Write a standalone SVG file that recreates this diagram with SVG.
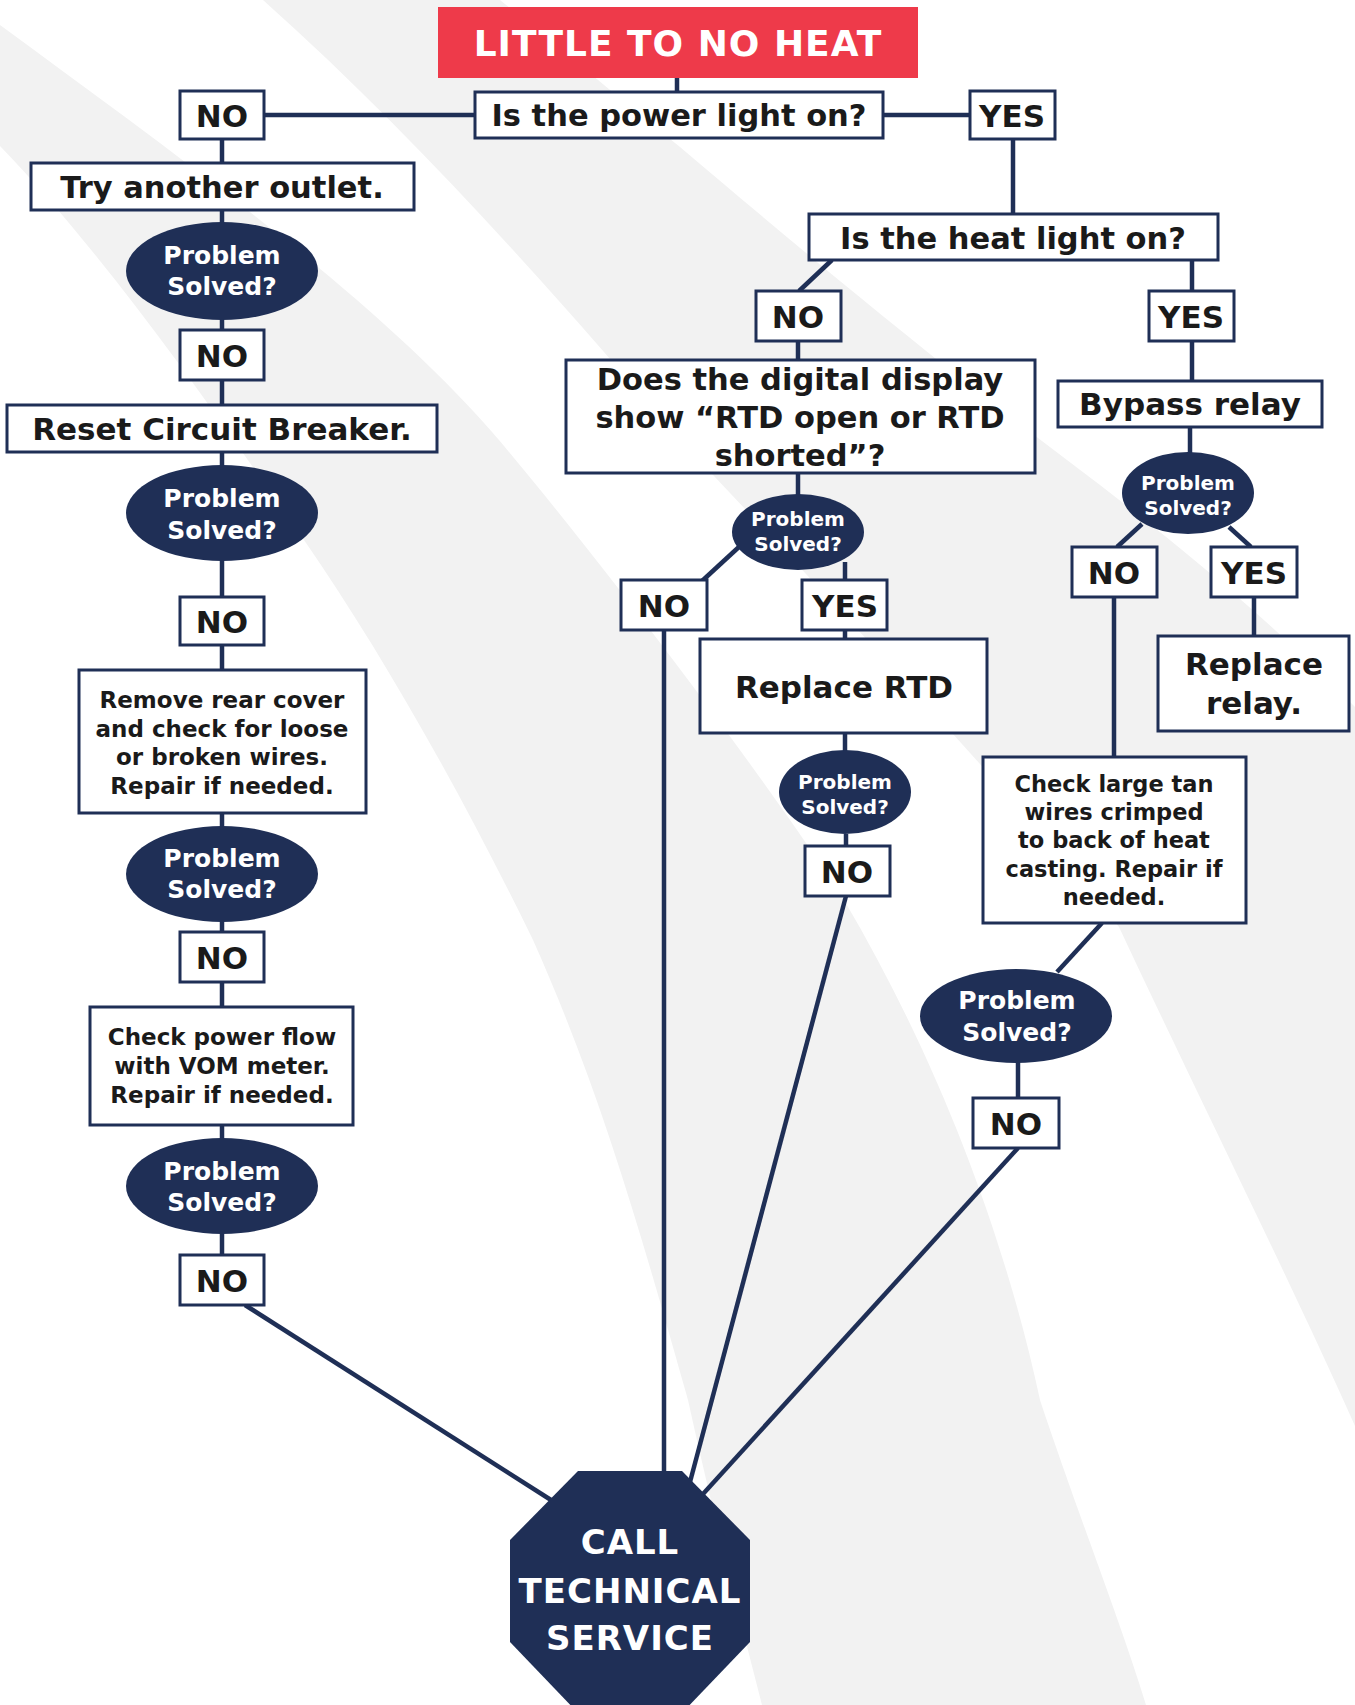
<svg xmlns="http://www.w3.org/2000/svg" width="1355" height="1705" viewBox="0 0 1355 1705">
<style>
.bg{fill:#f2f2f2;stroke:none}
.box{fill:#ffffff;stroke:#1f2f56;stroke-width:3}
.ell{fill:#1f2f56;stroke:none}
.ln{stroke:#1f2f56;stroke-width:4.5;fill:none;stroke-linecap:butt}
text{font-family:"DejaVu Sans","Liberation Sans",sans-serif;font-weight:bold;text-anchor:middle}
.t{fill:#1a1a1a;font-size:30.5px}
.yn{fill:#1a1a1a;font-size:31px}
.sm{fill:#1a1a1a;font-size:23px}
.w{fill:#ffffff;font-size:25px}
.ws{fill:#ffffff;font-size:20px}
.oc{fill:#ffffff;font-size:34px;letter-spacing:1px}
</style>
<rect width="1355" height="1705" fill="#ffffff"/>
<g id="background">
<path class="bg" d="M0,25 C170,150 380,300 499,440 C600,560 760,770 844,900 C950,1080 1010,1260 1040,1400 C1080,1520 1120,1620 1146,1705 L762,1705 C735,1600 710,1500 688,1400 C640,1230 600,1090 533,940 C460,790 380,650 304,540 C220,420 110,260 0,146 Z"/>
<path class="bg" d="M263,0 C420,140 560,300 680,440 C850,620 1000,780 1119,927 C1200,1100 1290,1280 1355,1426 L1355,707 C1260,610 1160,530 1067,460 C920,350 790,240 680,147 C610,90 550,40 500,0 Z"/>
</g>
<g id="connectors">
<line class="ln" x1="677" y1="78" x2="677" y2="92"/>
<line class="ln" x1="264" y1="115" x2="475" y2="115"/>
<line class="ln" x1="883" y1="115" x2="970" y2="115"/>
<line class="ln" x1="1013" y1="139" x2="1013" y2="214"/>
<line class="ln" x1="832" y1="260" x2="799" y2="291"/>
<line class="ln" x1="1192" y1="260" x2="1192" y2="291"/>
<line class="ln" x1="1192" y1="341" x2="1192" y2="381"/>
<line class="ln" x1="1190" y1="427" x2="1190" y2="453"/>
<line class="ln" x1="1142" y1="524" x2="1117" y2="547"/>
<line class="ln" x1="1229" y1="527" x2="1251" y2="547"/>
<line class="ln" x1="1254" y1="597" x2="1254" y2="636"/>
<line class="ln" x1="1114" y1="597" x2="1114" y2="757"/>
<line class="ln" x1="1102" y1="923" x2="1057" y2="972"/>
<line class="ln" x1="1018" y1="1062" x2="1018" y2="1098"/>
<line class="ln" x1="1018" y1="1148" x2="703" y2="1494"/>
<line class="ln" x1="798" y1="341" x2="798" y2="360"/>
<line class="ln" x1="798" y1="473" x2="798" y2="495"/>
<line class="ln" x1="740" y1="546" x2="702" y2="581"/>
<line class="ln" x1="845" y1="562" x2="845" y2="580"/>
<line class="ln" x1="845" y1="630" x2="845" y2="639"/>
<line class="ln" x1="845" y1="733" x2="845" y2="751"/>
<line class="ln" x1="846" y1="834" x2="846" y2="846"/>
<line class="ln" x1="846" y1="896" x2="690" y2="1482"/>
<line class="ln" x1="664" y1="630" x2="664" y2="1472"/>
<line class="ln" x1="222" y1="139" x2="222" y2="163"/>
<line class="ln" x1="222" y1="210" x2="222" y2="223"/>
<line class="ln" x1="222" y1="319" x2="222" y2="330"/>
<line class="ln" x1="222" y1="380" x2="222" y2="405"/>
<line class="ln" x1="222" y1="452" x2="222" y2="466"/>
<line class="ln" x1="222" y1="560" x2="222" y2="597"/>
<line class="ln" x1="222" y1="645" x2="222" y2="670"/>
<line class="ln" x1="222" y1="813" x2="222" y2="827"/>
<line class="ln" x1="222" y1="921" x2="222" y2="932"/>
<line class="ln" x1="222" y1="982" x2="222" y2="1007"/>
<line class="ln" x1="222" y1="1125" x2="222" y2="1139"/>
<line class="ln" x1="222" y1="1233" x2="222" y2="1255"/>
<line class="ln" x1="245" y1="1305" x2="551" y2="1500"/>
</g>
<g id="title">
<rect x="438" y="7" width="480" height="71" fill="#ee3a4a"/>
<text x="678" y="56" style="fill:#ffffff;font-size:36px;letter-spacing:1px">LITTLE TO NO HEAT</text>
</g>
<g id="q-power">
<rect class="box" x="475" y="92" width="408" height="46"/>
<text class="t" x="679" y="126">Is the power light on?</text>
</g>
<g id="no-power">
<rect class="box" x="180" y="91" width="84" height="48"/>
<text class="yn" x="222" y="127">NO</text>
</g>
<g id="yes-power">
<rect class="box" x="970" y="91" width="85" height="48"/>
<text class="yn" x="1012" y="127">YES</text>
</g>
<g id="q-heat">
<rect class="box" x="809" y="214" width="409" height="46"/>
<text class="t" x="1013" y="249">Is the heat light on?</text>
</g>
<g id="no-heat">
<rect class="box" x="756" y="291" width="85" height="50"/>
<text class="yn" x="798" y="328">NO</text>
</g>
<g id="yes-heat">
<rect class="box" x="1149" y="291" width="85" height="50"/>
<text class="yn" x="1191" y="328">YES</text>
</g>
<g id="bypass">
<rect class="box" x="1058" y="381" width="264" height="46"/>
<text class="t" x="1190" y="415" style="font-size:31px">Bypass relay</text>
</g>
<g id="solved-bypass">
<ellipse class="ell" cx="1188" cy="493" rx="66" ry="41"/>
<text class="ws" x="1188" y="490">Problem</text>
<text class="ws" x="1188" y="515">Solved?</text>
</g>
<g id="no-bypass">
<rect class="box" x="1072" y="547" width="85" height="50"/>
<text class="yn" x="1114" y="584">NO</text>
</g>
<g id="yes-bypass">
<rect class="box" x="1211" y="547" width="86" height="50"/>
<text class="yn" x="1254" y="584">YES</text>
</g>
<g id="replace-relay">
<rect class="box" x="1158" y="636" width="191" height="95"/>
<text class="t" x="1254" y="675" style="font-size:31px">Replace</text>
<text class="t" x="1254" y="714" style="font-size:31px">relay.</text>
</g>
<g id="check-tan">
<rect class="box" x="983" y="757" width="263" height="166"/>
<text class="sm" x="1114" y="792" style="font-size:22.5px">Check large tan</text>
<text class="sm" x="1114" y="820" style="font-size:22.5px">wires crimped</text>
<text class="sm" x="1114" y="848" style="font-size:22.5px">to back of heat</text>
<text class="sm" x="1114" y="877" style="font-size:22.5px">casting. Repair if</text>
<text class="sm" x="1114" y="905" style="font-size:22.5px">needed.</text>
</g>
<g id="solved-tan">
<ellipse class="ell" cx="1016" cy="1016" rx="96" ry="47"/>
<text class="w" x="1017" y="1009">Problem</text>
<text class="w" x="1017" y="1041">Solved?</text>
</g>
<g id="no-tan">
<rect class="box" x="973" y="1098" width="86" height="50"/>
<text class="yn" x="1016" y="1135">NO</text>
</g>
<g id="q-display">
<rect class="box" x="566" y="360" width="469" height="113"/>
<text class="t" x="800" y="390">Does the digital display</text>
<text class="t" x="800" y="428">show “RTD open or RTD</text>
<text class="t" x="800" y="466">shorted”?</text>
</g>
<g id="solved-display">
<ellipse class="ell" cx="798" cy="532" rx="66" ry="38"/>
<text class="ws" x="798" y="526">Problem</text>
<text class="ws" x="798" y="551">Solved?</text>
</g>
<g id="no-display">
<rect class="box" x="621" y="580" width="86" height="50"/>
<text class="yn" x="664" y="617">NO</text>
</g>
<g id="yes-display">
<rect class="box" x="802" y="580" width="85" height="50"/>
<text class="yn" x="845" y="617">YES</text>
</g>
<g id="replace-rtd">
<rect class="box" x="700" y="639" width="287" height="94"/>
<text class="t" x="844" y="698" style="font-size:31px">Replace RTD</text>
</g>
<g id="solved-rtd">
<ellipse class="ell" cx="845" cy="792" rx="66" ry="42"/>
<text class="ws" x="845" y="789">Problem</text>
<text class="ws" x="845" y="814">Solved?</text>
</g>
<g id="no-rtd">
<rect class="box" x="805" y="846" width="85" height="50"/>
<text class="yn" x="847" y="883">NO</text>
</g>
<g id="try-outlet">
<rect class="box" x="31" y="163" width="383" height="47"/>
<text class="t" x="222" y="198">Try another outlet.</text>
</g>
<g id="solved-1">
<ellipse class="ell" cx="222" cy="271" rx="96" ry="49"/>
<text class="w" x="222" y="264">Problem</text>
<text class="w" x="222" y="295">Solved?</text>
</g>
<g id="no-1">
<rect class="box" x="180" y="330" width="84" height="50"/>
<text class="yn" x="222" y="367">NO</text>
</g>
<g id="reset-breaker">
<rect class="box" x="7" y="405" width="430" height="47"/>
<text class="t" x="222" y="440" style="font-size:31px">Reset Circuit Breaker.</text>
</g>
<g id="solved-2">
<ellipse class="ell" cx="222" cy="513" rx="96" ry="48"/>
<text class="w" x="222" y="507">Problem</text>
<text class="w" x="222" y="539">Solved?</text>
</g>
<g id="no-2">
<rect class="box" x="180" y="597" width="84" height="48"/>
<text class="yn" x="222" y="633">NO</text>
</g>
<g id="remove-cover">
<rect class="box" x="79" y="670" width="287" height="143"/>
<text class="sm" x="222" y="708">Remove rear cover</text>
<text class="sm" x="222" y="737">and check for loose</text>
<text class="sm" x="222" y="765">or broken wires.</text>
<text class="sm" x="222" y="794">Repair if needed.</text>
</g>
<g id="solved-3">
<ellipse class="ell" cx="222" cy="874" rx="96" ry="48"/>
<text class="w" x="222" y="867">Problem</text>
<text class="w" x="222" y="898">Solved?</text>
</g>
<g id="no-3">
<rect class="box" x="180" y="932" width="84" height="50"/>
<text class="yn" x="222" y="969">NO</text>
</g>
<g id="check-power">
<rect class="box" x="90" y="1007" width="263" height="118"/>
<text class="sm" x="222" y="1045">Check power flow</text>
<text class="sm" x="222" y="1074">with VOM meter.</text>
<text class="sm" x="222" y="1103">Repair if needed.</text>
</g>
<g id="solved-4">
<ellipse class="ell" cx="222" cy="1186" rx="96" ry="48"/>
<text class="w" x="222" y="1180">Problem</text>
<text class="w" x="222" y="1211">Solved?</text>
</g>
<g id="no-4">
<rect class="box" x="180" y="1255" width="84" height="50"/>
<text class="yn" x="222" y="1292">NO</text>
</g>
<g id="call-service">
<polygon points="578,1471 682,1471 750,1540 750,1642 682,1713 578,1713 510,1642 510,1540" fill="#1f2f56"/>
<text class="oc" x="630" y="1554">CALL</text>
<text class="oc" x="630" y="1603">TECHNICAL</text>
<text class="oc" x="630" y="1650">SERVICE</text>
</g>
</svg>
